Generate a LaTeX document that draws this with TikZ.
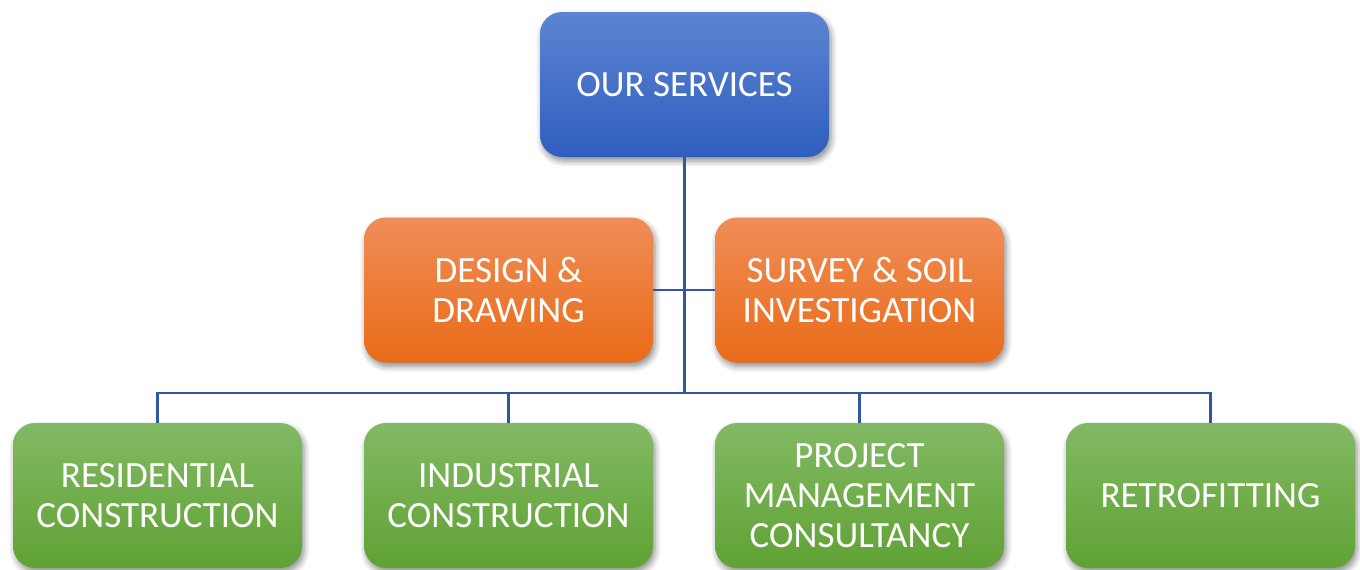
\documentclass[tikz,border=0pt]{standalone}
\usepackage{fontspec}
\setmainfont{Carlito}
\usetikzlibrary{shadows.blur}
\definecolor{blueT}{HTML}{5D84D2}
\definecolor{blueB}{HTML}{2E5EBE}
\definecolor{orT}{HTML}{F08D57}
\definecolor{orB}{HTML}{E96B18}
\definecolor{grT}{HTML}{82B964}
\definecolor{grB}{HTML}{60A234}
\definecolor{lineC}{HTML}{3057A2}
\tikzset{
  box/.style={rounded corners=22pt, minimum width=289pt, minimum height=145pt,
    inner sep=0pt, align=center, text=white, font=\fontsize{37}{40}\selectfont,
    blur shadow={shadow xshift=2pt, shadow yshift=-4pt, shadow blur steps=6, shadow blur radius=6pt, shadow opacity=45}},
  bluebox/.style={box, top color=blueT, bottom color=blueB},
  orbox/.style={box, top color=orT, bottom color=orB},
  grbox/.style={box, top color=grT, bottom color=grB},
  conn/.style={draw=lineC, line width=2.4pt}
}
\begin{document}
\begin{tikzpicture}[x=1pt,y=-1pt]
\useasboundingbox (0,0) rectangle (1360,570);
\node[bluebox] (top) at (684.5,84.5) {OUR SERVICES};
\node[orbox] (D) at (508.5,290) {DESIGN \&\\DRAWING};
\node[orbox] (S) at (859.5,290) {SURVEY \& SOIL\\INVESTIGATION};
\node[grbox] (R) at (157.5,495.5) {RESIDENTIAL\\CONSTRUCTION};
\node[grbox] (I) at (508.5,495.5) {INDUSTRIAL\\CONSTRUCTION};
\node[grbox] (P) at (859.5,495.5) {PROJECT\\MANAGEMENT\\CONSULTANCY};
\node[grbox] (RT) at (1210.5,495.5) {RETROFITTING};
\coordinate (bus) at (684.5,393);
\draw[conn] (top.south) -- (bus);
\draw[conn] (D.east) -- (S.west);
\draw[conn] (R.north) |- (bus) -| (RT.north);
\draw[conn] (I.north) -- (I.north |- bus);
\draw[conn] (P.north) -- (P.north |- bus);
\end{tikzpicture}
\end{document}
